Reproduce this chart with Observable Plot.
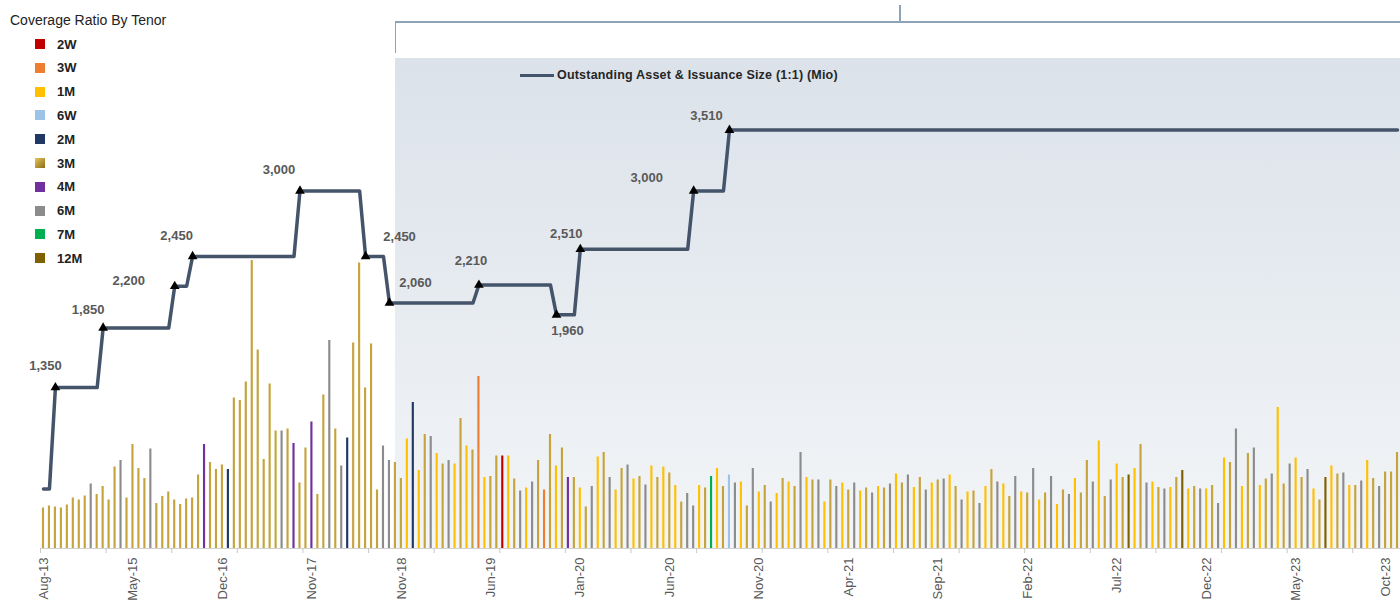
<!DOCTYPE html>
<html><head><meta charset="utf-8">
<script src="https://cdn.jsdelivr.net/npm/d3@7"></script>
<script src="https://cdn.jsdelivr.net/npm/@observablehq/plot@0.6"></script>
<style>
html,body{margin:0;padding:0;background:#fff;}
#wrap{position:relative;width:1400px;height:603px;overflow:hidden;font-family:"Liberation Sans",Arial,sans-serif;background:#fff;}
#wrap svg{position:absolute;left:0;top:0;max-width:none;}
#shade{position:absolute;background:linear-gradient(#dbe2ea,#f3f5f7);z-index:0;}
.brk{position:absolute;background:#8fa3b8;}
#barsHost,#lineHost{position:absolute;left:0;top:0;width:1400px;height:603px;}
#barsHost{z-index:1;}
#lineHost{z-index:2;}
#legend{position:absolute;left:0;top:0;z-index:3;}
#legend .title{position:absolute;left:10px;top:12px;font-size:14px;color:#222;white-space:nowrap;}
#legend .item{position:absolute;left:35px;height:16px;display:flex;align-items:center;}
#legend .sw{width:10px;height:10px;margin-right:12px;}
#legend .lab{font-size:13px;font-weight:bold;color:#222;}
#lineLegend{position:absolute;left:520px;top:68px;z-index:3;display:flex;align-items:center;}
#lineLegend .ln{width:34px;height:3px;background:#44546a;margin-right:3px;}
#lineLegend .tx{font-size:12.5px;font-weight:bold;color:#262626;white-space:nowrap;letter-spacing:0.2px;}
</style></head>
<body><div id="wrap"><div id="shade"></div><div id="barsHost"></div><div id="lineHost"></div><div id="legend"></div>
<div id="lineLegend"><div class="ln"></div><div class="tx">Outstanding Asset &amp; Issuance Size (1:1) (Mio)</div></div></div>
<script>
// ---- data ----
const tenors = ["2W","3W","1M","6W","2M","3M","4M","6M","7M","12M"];
const tenorColors = ["#c00000","#ed7d31","#ffc000","#9dc3e6","#203864","#c5a43e","#7030a0","#8c8c8c","#00b050","#7f6000"];

const coverage = [
0.81,0.85,0.83,0.81,0.87,1.01,0.97,1.05,1.29,1.08,
1.24,0.97,1.63,1.76,1.01,2.08,1.60,1.40,1.99,0.90,
1.04,1.13,0.97,0.88,0.99,1.01,1.47,2.08,1.72,1.58,
1.67,1.58,3.01,2.96,3.33,5.76,3.97,1.78,3.29,2.35,
2.35,2.39,2.10,1.31,2.01,2.53,1.08,3.07,4.16,2.39,
1.65,2.21,4.11,5.71,3.21,4.09,1.17,2.05,1.76,1.72,
1.40,2.19,2.92,1.56,2.28,2.24,1.90,1.69,1.76,1.69,
2.60,2.05,1.97,3.44,1.42,1.44,1.85,1.85,1.85,1.39,
1.15,1.21,1.33,1.76,1.17,2.28,1.65,2.01,1.42,1.42,
1.21,0.83,1.24,1.83,1.92,1.42,1.17,1.60,1.67,1.39,
1.44,1.27,1.65,1.42,1.63,1.51,1.26,0.93,1.10,0.85,
1.26,1.21,1.44,1.60,1.24,1.47,1.31,1.33,0.85,1.60,
1.13,1.26,0.93,1.10,1.40,1.33,1.24,1.92,1.42,1.37,
1.37,0.93,1.37,1.24,1.31,1.17,1.31,1.15,1.21,1.11,
1.24,1.21,1.29,1.49,1.31,1.47,1.22,1.42,1.17,1.31,
1.37,1.39,1.47,1.24,0.97,1.13,1.15,0.90,1.24,1.58,
1.33,1.29,1.04,1.44,1.13,1.11,1.60,0.97,1.11,1.44,
0.88,1.17,1.08,1.40,1.11,1.76,1.33,2.15,1.04,1.37,
1.69,1.42,1.47,1.60,2.08,1.31,1.33,1.22,1.19,1.22,
1.42,1.56,1.19,1.24,1.19,1.19,1.26,0.90,1.81,1.72,
2.39,1.24,1.90,2.01,1.26,1.39,1.49,2.82,1.29,1.69,
1.81,1.42,1.58,1.19,0.97,1.42,1.65,1.49,1.51,1.26,
1.26,1.35,1.76,1.40,1.24,1.53,1.53,1.92];

const tenorOf = [
"3M","3M","3M","3M","3M","3M","3M","3M","6M","3M",
"3M","3M","3M","6M","3M","3M","3M","3M","6M","3M",
"3M","3M","3M","3M","3M","3M","3M","4M","3M","3M",
"3M","2M","3M","3M","3M","3M","3M","3M","3M","3M",
"6M","3M","4M","3M","3M","4M","3M","3M","6M","3M",
"6M","2M","3M","3M","3M","3M","3M","6M","6M","3M",
"3M","1M","2M","1M","3M","6M","1M","3M","6M","1M",
"3M","1M","3M","3W","1M","3M","3M","2W","1M","3M",
"6M","1M","6M","3M","3W","3M","1M","3M","4M","3M",
"1M","3M","6M","1M","3M","6M","1M","3M","6M","1M",
"3M","6M","1M","3M","1M","3M","1M","3M","6M","6M",
"1M","3M","7M","1M","3M","6W","6M","1M","3M","6M",
"1M","3M","6M","1M","3M","1M","3M","6M","1M","3M",
"6M","1M","3M","6M","1M","3M","6M","1M","3M","6M",
"1M","3M","6M","1M","3M","6M","1M","3M","6M","1M",
"3M","6M","1M","3M","6M","1M","3M","6M","1M","3M",
"6M","1M","3M","6M","1M","3M","6M","1M","3M","6M",
"1M","3M","6M","1M","3M","3M","6M","1M","3M","6M",
"1M","3M","12M","1M","3M","6M","1M","3M","6M","1M",
"3M","12M","1M","3M","6M","1M","3M","6M","1M","3M",
"6M","1M","3M","6M","1M","3M","6M","1M","3M","6M",
"1M","3M","6M","1M","3M","12M","1M","3M","6M","1M",
"3M","6M","1M","3M","6M","3M","3M","3M"];

const tickLabels = ["Aug-13","May-15","Dec-16","Nov-17","Nov-18","Jun-19","Jan-20","Jun-20","Nov-20","Apr-21","Sep-21","Feb-22","Jul-22","Dec-22","May-23","Oct-23"];
const tickIndex  = [0,15,30,45,60,75,90,105,120,135,150,165,180,195,210,225];
const tickMarkIndex = [0,11,22,33,44,55,66,77,88,99,110,121,132,143,154,165,176,187,198,209,220];

// Outstanding size levels (Mio): value held from auction levelStart to levelEnd
const levelValue = [500,1350,1850,2200,2450,3000,2450,2060,2210,1960,2510,3000,3510];
const levelStart = [0,2,10,22,25,43,54,58,73,86,90,109,115];
const levelEnd   = [1,9,21,24,42,53,57,72,85,89,108,114,227];
// label nudges (px) for the value labels of each level after the first
const labelDx = [-10,-15,-46,-16,-21,34,26,-8,11,-14,-47,-23];
const labelDy = [-22,-18,-5,-21,-21,-20,-20,-24,16,-15,-13,-14];

// ---- layout ----
const W = 1400, H = 603, ML = 40, MR = 0, MT = 0, MB = 55;
const n = coverage.length;
const step = (W - ML - MR) / n;
const font = "Liberation Sans, Arial, sans-serif";

const bars = coverage.map((v, i) => ({i, v, t: tenorOf[i]}));

const barPlot = Plot.plot({
  width: W, height: H, marginLeft: ML, marginRight: MR, marginTop: MT, marginBottom: MB,
  style: {background: "transparent", fontFamily: font, overflow: "visible"},
  x: {type: "band", domain: d3.range(n), paddingInner: 0.64, paddingOuter: 0.32, align: 0.5, round: false, axis: null, label: null},
  y: {domain: [0, 10.96], axis: null, label: null},
  color: {domain: tenors, range: tenorColors},
  marks: [
    Plot.barY(bars, {x: "i", y: "v", fill: "t"}),
    Plot.ruleY([0], {stroke: "#d0d0d0", strokeWidth: 1}),
    Plot.ruleX(tickMarkIndex, {x: d => d, dx: -step / 2, y1: 0, y2: -0.1, stroke: "#c8c8c8"}),
    Plot.axisX(tickIndex, {tickSize: 0, tickPadding: 9, tickRotate: -90, label: null,
      tickFormat: i => tickLabels[tickIndex.indexOf(i)], fontSize: 13, fill: "#595959"})
  ]
});
document.getElementById("barsHost").appendChild(barPlot);

// line data: the two ends of each level
const linePts = [];
levelValue.forEach((v, k) => {
  linePts.push({i: levelStart[k], v});
  if (levelEnd[k] !== levelStart[k]) linePts.push({i: levelEnd[k], v});
});
const markers = levelValue.map((v, k) => ({i: levelStart[k], v})).slice(1);
const fmt = d3.format(",");

const linePlot = Plot.plot({
  width: W, height: H, marginLeft: ML, marginRight: MR, marginTop: MT, marginBottom: MB,
  style: {background: "transparent", fontFamily: font, overflow: "visible"},
  x: {type: "point", domain: d3.range(n), padding: 0.5, round: false, axis: null, label: null},
  y: {domain: [0, 4597], axis: null, label: null},
  marks: [
    Plot.line(linePts, {x: "i", y: "v", stroke: "#44546a", strokeWidth: 3.5, strokeLinejoin: "round"}),
    Plot.dot(markers, {x: "i", y: "v", symbol: "triangle", r: 3.6, fill: "#000", stroke: "none"}),
    ...markers.map((m, k) => Plot.text([m], {x: "i", y: "v", text: d => fmt(d.v),
      dx: labelDx[k], dy: labelDy[k], fontSize: 13, fontWeight: "bold", fill: "#595959"}))
  ]
});
document.getElementById("lineHost").appendChild(linePlot);

// shaded panel starting at the Nov-18 region
const xs = barPlot.scale("x");
let left = (xs && xs.apply) ? xs.apply(59) + xs.bandwidth / 2 : ML + step * 59.5;
const shade = document.getElementById("shade");
shade.style.left = left + "px";
shade.style.top = "58px";
shade.style.width = (W - left) + "px";
shade.style.height = (H - MB - 58) + "px";

// bracket lines above the panel
const wrap = document.getElementById("wrap");
function brk(l, t, w, h) { const d = document.createElement("div"); d.className = "brk";
  Object.assign(d.style, {left: l + "px", top: t + "px", width: w + "px", height: h + "px"}); wrap.appendChild(d); }
brk(left, 21, W - left, 2);
brk(left, 21, 1.5, 32);
brk(899, 5, 1.5, 17);

// tenor legend
const lg = document.getElementById("legend");
const t = document.createElement("div"); t.className = "title"; t.textContent = "Coverage Ratio By Tenor"; lg.appendChild(t);
tenors.forEach((name, k) => {
  const it = document.createElement("div"); it.className = "item";
  it.style.top = (36 + k * 23.8) + "px";
  const sw = document.createElement("div"); sw.className = "sw";
  sw.style.background = name === "3M" ? "linear-gradient(135deg,#e6c65a,#8b6d14)" : tenorColors[k];
  const lb = document.createElement("div"); lb.className = "lab"; lb.textContent = name;
  it.appendChild(sw); it.appendChild(lb); lg.appendChild(it);
});
</script></body></html>
